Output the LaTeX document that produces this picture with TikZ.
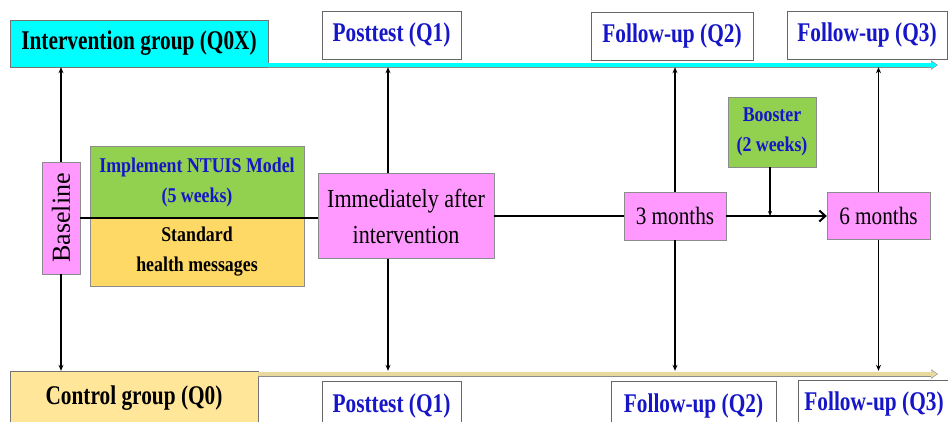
\documentclass[tikz,border=0pt]{standalone}
\usepackage{fontspec}
\setmainfont{Liberation Serif}
\newfontfamily\narrowfont{Liberation Serif}[FakeStretch=0.85]
\newfontfamily\tallfont{Liberation Serif}[FakeStretch=0.79]
\usetikzlibrary{arrows.meta,positioning}
\definecolor{qblue}{RGB}{22,22,200}
\definecolor{tpink}{HTML}{FF99FF}
\definecolor{igcyan}{HTML}{00FFFF}
\definecolor{tgreen}{HTML}{92D050}
\definecolor{tyellow}{HTML}{FFD966}
\definecolor{cgyellow}{HTML}{FFE699}
\definecolor{cgline}{HTML}{E8DA9E}
\tikzset{
  grpbox/.style={draw=black!55, inner sep=0pt, font=\tallfont\bfseries\fontsize{27}{30}\selectfont},
  qbox/.style={draw=black!60, fill=white, text=qblue, inner sep=0pt, font=\tallfont\bfseries\fontsize{27}{30}\selectfont},
  tbox/.style={draw=black!45, fill=tpink, inner sep=0pt, align=center, font=\narrowfont\fontsize{26}{36}\selectfont},
  actbox/.style={draw=black!45, inner sep=0pt, align=center, font=\narrowfont\bfseries\fontsize{21}{30}\selectfont},
  vline/.style={black, line width=1.4pt, -{Stealth[length=6pt,width=5pt]}},
  tline/.style={black, line width=2pt}
}
\begin{document}
\begin{tikzpicture}[x=1pt,y=-1pt]
\useasboundingbox (0,0) rectangle (948,421);
% group bars
\coordinate (iend) at (938,65);
\coordinate (cend) at (938,374);
\node[grpbox, fill=igcyan, minimum width=258pt, minimum height=47pt] (ig) at (139,43.5) {Intervention group (Q0X)};
\node[grpbox, fill=cgyellow, minimum width=248pt, minimum height=54pt] (cg) at (134,398) {Control group (Q0)};
\draw[black!45, line width=5pt, -{Triangle[length=7pt,width=9pt]}] (iend -| ig.east) -- (iend);
\draw[igcyan, line width=3.2pt, shorten >=0.8pt, -{Triangle[length=6pt,width=7pt]}] (iend -| ig.east) -- (iend);
\draw[black!45, line width=5pt, -{Triangle[length=7pt,width=9pt]}] (cend -| cg.east) -- (cend);
\draw[cgline, line width=3.2pt, shorten >=0.8pt, -{Triangle[length=6pt,width=7pt]}] (cend -| cg.east) -- (cend);
% measurement boxes
\foreach \n/\x/\y/\w/\t in {pt1/391.5/35/139/Posttest (Q1), fu2/672/36.5/162/Follow-up (Q2), fu3/867/35.5/160/Follow-up (Q3),
  pb1/391.5/405.5/139/Posttest (Q1), fb2/693.5/405.5/165/Follow-up (Q2), fb3/874/404/152/Follow-up (Q3)} {
  \node[qbox, minimum width=\w pt, minimum height=48pt] (\n) at (\x,\y) {\t};
}
% timeline
\node[draw=black!45, fill=tpink, minimum width=38pt, minimum height=112pt, inner sep=0pt, font=\fontsize{26}{30}\selectfont] (base) at (61,218) {\rotatebox{90}{Baseline}};
\node[actbox, fill=tgreen, text=qblue, minimum width=214pt, minimum height=72pt] (impl) at (197,182) {Implement NTUIS Model\\(5 weeks)};
\node[actbox, fill=tyellow, minimum width=214pt, minimum height=68pt] (std) at (197,252) {Standard\\health messages};
\node[tbox, minimum width=176pt, minimum height=85pt] (imm) at (406,216) {Immediately after\\intervention};
\node[tbox, minimum width=102pt, minimum height=48pt, font=\narrowfont\fontsize{25}{30}\selectfont] (m3) at (675,216) {3 months};
\node[tbox, minimum width=103pt, minimum height=47pt, font=\narrowfont\fontsize{25}{30}\selectfont] (m6) at (878.5,216) {6 months};
\node[actbox, fill=tgreen, text=qblue, minimum width=88pt, minimum height=70pt] (boost) at (772,132) {Booster\\(2 weeks)};
\draw[tline] (base.east |- 0,218) -- (imm.west |- 0,218);
\draw[tline] (imm.east) -- (m3.west);
\draw[tline, -{Straight Barb[length=6pt,width=11pt]}] (m3.east) -- (m6.west);
\draw[vline, line width=1.6pt, -{Stealth[length=5pt,width=4pt]}] (boost.south -| 770,0) -- (770,216);
% measurement arrows
\coordinate (q1x) at (388,0);
\draw[vline] (base.north) -- (base.north |- ig.south);
\draw[vline] (base.south) -- (base.south |- cg.north);
\draw[vline] (q1x |- imm.north) -- (q1x |- ig.south);
\draw[vline] (q1x |- imm.south) -- (q1x |- cg.north);
\draw[vline] (m3.north) -- (m3.north |- ig.south);
\draw[vline] (m3.south) -- (m3.south |- cg.north);
\draw[vline] (m6.north) -- (m6.north |- ig.south);
\draw[vline] (m6.south) -- (m6.south |- cg.north);
\end{tikzpicture}
\end{document}
